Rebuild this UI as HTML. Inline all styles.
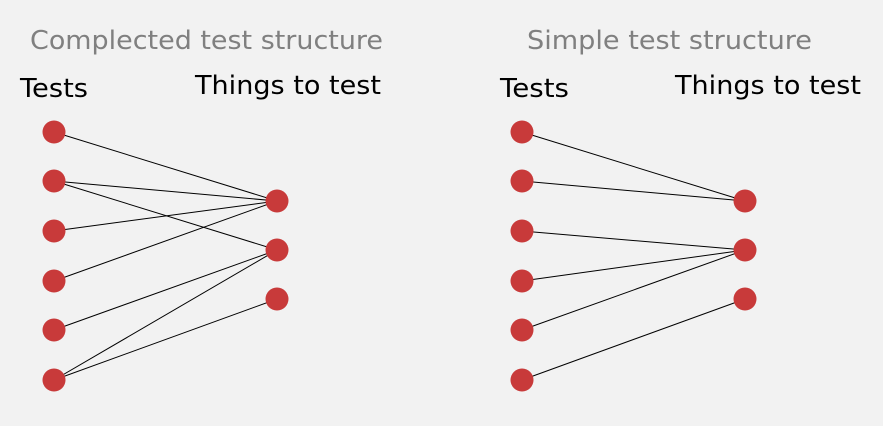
<!DOCTYPE html>
<html><head><style>html,body{margin:0;padding:0;background:#f2f2f2}</style></head><body>
<svg width="883" height="426" xmlns="http://www.w3.org/2000/svg" style="display:block">
<rect width="883" height="426" fill="#f2f2f2"/>
<g font-family="DejaVu Sans, Verdana, sans-serif" font-size="26">
<text x="30" y="49" fill="#808080" textLength="353" lengthAdjust="spacingAndGlyphs">Complected test structure</text>
<text x="20" y="97" fill="#000" textLength="68" lengthAdjust="spacingAndGlyphs">Tests</text>
<text x="195" y="94" fill="#000" textLength="186" lengthAdjust="spacingAndGlyphs">Things to test</text>
<text x="527" y="49" fill="#808080" textLength="285" lengthAdjust="spacingAndGlyphs">Simple test structure</text>
<text x="500" y="97" fill="#000" textLength="69" lengthAdjust="spacingAndGlyphs">Tests</text>
<text x="675" y="94" fill="#000" textLength="186" lengthAdjust="spacingAndGlyphs">Things to test</text>
</g>
<g stroke="#000" stroke-width="1">
<line x1="54" y1="132" x2="277" y2="201"/>
<line x1="54" y1="181" x2="277" y2="201"/>
<line x1="54" y1="181" x2="277" y2="250"/>
<line x1="54" y1="231" x2="277" y2="201"/>
<line x1="54" y1="281" x2="277" y2="201"/>
<line x1="54" y1="330" x2="277" y2="250"/>
<line x1="54" y1="380" x2="277" y2="250"/>
<line x1="54" y1="380" x2="277" y2="299"/>
<line x1="522" y1="132" x2="745" y2="201"/>
<line x1="522" y1="181" x2="745" y2="201"/>
<line x1="522" y1="231" x2="745" y2="250"/>
<line x1="522" y1="281" x2="745" y2="250"/>
<line x1="522" y1="330" x2="745" y2="250"/>
<line x1="522" y1="380" x2="745" y2="299"/>
</g>
<g fill="#c83a3a">
<circle cx="54" cy="132" r="11.5"/><circle cx="54" cy="181" r="11.5"/><circle cx="54" cy="231" r="11.5"/>
<circle cx="54" cy="281" r="11.5"/><circle cx="54" cy="330" r="11.5"/><circle cx="54" cy="380" r="11.5"/>
<circle cx="277" cy="201" r="11.5"/><circle cx="277" cy="250" r="11.5"/><circle cx="277" cy="299" r="11.5"/>
<circle cx="522" cy="132" r="11.5"/><circle cx="522" cy="181" r="11.5"/><circle cx="522" cy="231" r="11.5"/>
<circle cx="522" cy="281" r="11.5"/><circle cx="522" cy="330" r="11.5"/><circle cx="522" cy="380" r="11.5"/>
<circle cx="745" cy="201" r="11.5"/><circle cx="745" cy="250" r="11.5"/><circle cx="745" cy="299" r="11.5"/>
</g>
</svg>
</body></html>
